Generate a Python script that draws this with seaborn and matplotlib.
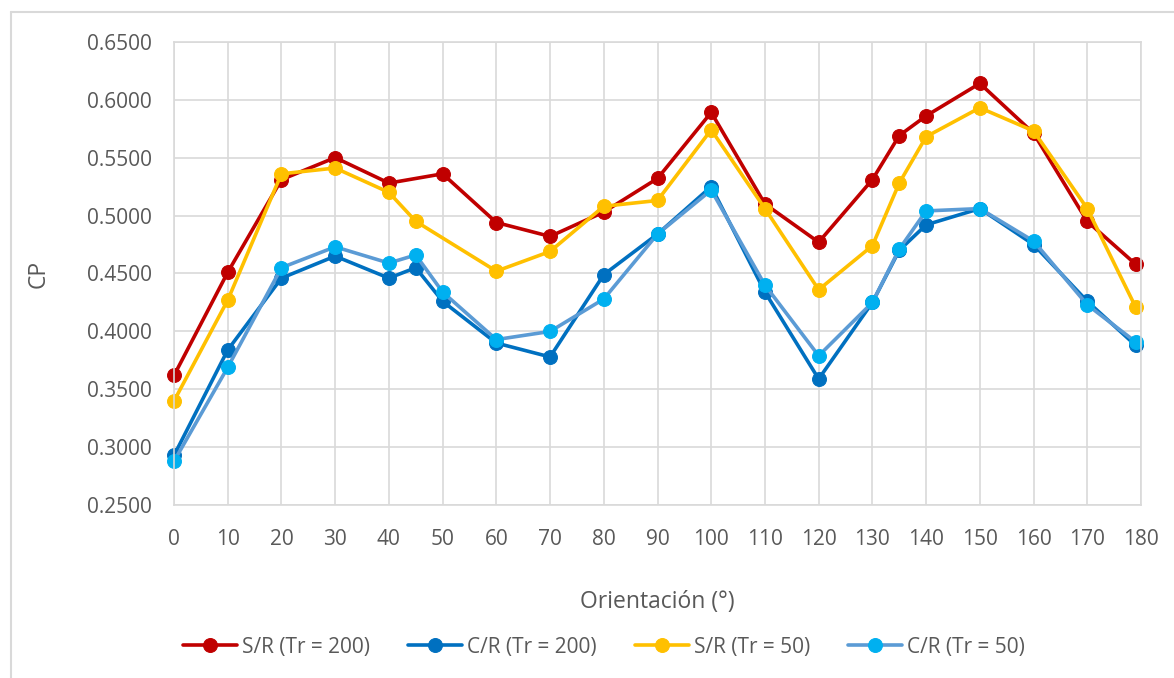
import matplotlib
matplotlib.use("Agg")
import matplotlib.pyplot as plt
import seaborn as sns
import pandas as pd
from matplotlib.lines import Line2D

# Data
x_sr200 = [0, 10, 20, 30, 40, 50, 60, 70, 80, 90, 100, 110, 120, 130, 135, 140, 150, 160, 170, 179]
sr200 = [0.362, 0.451, 0.531, 0.550, 0.528, 0.536, 0.494, 0.482, 0.503, 0.532, 0.589,
         0.510, 0.477, 0.531, 0.569, 0.586, 0.614, 0.571, 0.495, 0.458]

x_sr50 = [0, 10, 20, 30, 40, 45, 60, 70, 80, 90, 100, 110, 120, 130, 135, 140, 150, 160, 170, 179]
sr50 = [0.340, 0.427, 0.536, 0.541, 0.520, 0.495, 0.452, 0.469, 0.508, 0.513, 0.574,
        0.506, 0.436, 0.474, 0.528, 0.568, 0.593, 0.573, 0.506, 0.421]

x_cr = [0, 10, 20, 30, 40, 45, 50, 60, 70, 80, 90, 100, 110, 120, 130, 135, 140, 150, 160, 170, 179]
cr200 = [0.293, 0.384, 0.446, 0.465, 0.446, 0.455, 0.426, 0.390, 0.378, 0.449, 0.484,
         0.525, 0.434, 0.359, 0.425, 0.470, 0.492, 0.506, 0.475, 0.426, 0.388]
cr50 = [0.288, 0.369, 0.455, 0.473, 0.459, 0.466, 0.434, 0.393, 0.400, 0.428, 0.484,
        0.522, 0.440, 0.379, 0.425, 0.471, 0.504, 0.506, 0.478, 0.423, 0.391]

x_ticks = list(range(0, 181, 10))
y_ticks = [0.25, 0.30, 0.35, 0.40, 0.45, 0.50, 0.55, 0.60, 0.65]

series = [
    ("S/R (Tr = 200)", x_sr200, sr200, "#C00000", "#C00000"),
    ("C/R (Tr = 200)", x_cr, cr200, "#0070C0", "#0070C0"),
    ("S/R (Tr = 50)", x_sr50, sr50, "#FFC000", "#FFC000"),
    ("C/R (Tr = 50)", x_cr, cr50, "#5B9BD5", "#00B0F0"),
]

sns.set_style("white")
plt.rcParams["font.family"] = ["Open Sans", "DejaVu Sans"]
text_color = "#595959"
grid_color = "#D9D9D9"

fig = plt.figure(figsize=(11.74, 6.78), dpi=100)
ax = fig.add_axes([174 / 1174, 1 - 505.3 / 678, (1141 - 174) / 1174, (505.3 - 41.7) / 678])

for name, xs, ys, line_col, mark_col in series:
    df = pd.DataFrame({"Orientación": xs, "CP": ys})
    sns.lineplot(data=df, x="Orientación", y="CP", ax=ax, color=line_col, linewidth=2.6,
                 marker="o", markersize=10, markerfacecolor=mark_col,
                 markeredgecolor=mark_col, label=name, clip_on=False)

ax.set_xlim(0, 180)
ax.set_ylim(0.25, 0.65)
ax.set_xticks(x_ticks)
ax.set_yticks(y_ticks)
ax.set_yticklabels(["%.4f" % v for v in y_ticks])
ax.grid(True, color=grid_color, linewidth=1.2)
ax.set_axisbelow(True)
for sp in ax.spines.values():
    sp.set_color(grid_color)
    sp.set_linewidth(1.2)
ax.tick_params(axis="both", length=0, labelsize=15, labelcolor=text_color)
ax.tick_params(axis="y", pad=16)
ax.tick_params(axis="x", pad=17)
ax.set_xlabel("Orientación (°)", fontsize=16.5, color=text_color, labelpad=29)
ax.set_ylabel("CP", fontsize=16.5, color=text_color, labelpad=26)

handles, labels = ax.get_legend_handles_labels()
ax.get_legend().remove()
fig.legend(handles, labels, loc="center", bbox_to_anchor=(604 / 1174, 1 - 647 / 678),
           ncol=4, frameon=False, fontsize=15, labelcolor=text_color,
           handlelength=2.6, handletextpad=0.25, columnspacing=1.8)

# chart frame (left and top edges visible)
fig.add_artist(Line2D([11 / 1174, 11 / 1174], [-0.1, 1 - 12 / 678], color=grid_color, linewidth=1.5))
fig.add_artist(Line2D([11 / 1174, 1.1], [1 - 12 / 678, 1 - 12 / 678], color=grid_color, linewidth=1.5))

fig.savefig("out.png", dpi=100)
